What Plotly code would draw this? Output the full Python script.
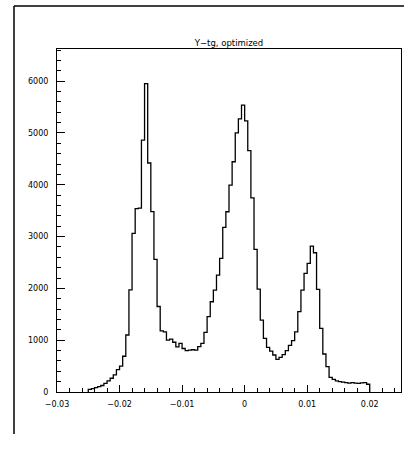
import numpy as np
import plotly.graph_objects as go

# Histogram: bins of width 0.0005 starting at -0.025
bin_start = -0.025
bin_width = 0.0005
counts = [
    50, 65, 85, 105, 125, 165, 215, 265, 330, 430,
    500, 690, 1100, 1970, 3060, 3540, 3550, 4860, 5950, 4420,
    3480, 2560, 1650, 1180, 1160, 1000, 1020, 960, 870, 940,
    840, 800, 810, 815, 810, 875, 940, 1150, 1453, 1742,
    1968, 2257, 2579, 3177, 3479, 3994, 4444, 5003, 5273, 5537,
    5234, 4660, 3745, 2753, 1987, 1389, 1036, 862, 790, 714,
    630, 670, 720, 800, 900, 990, 1160, 1550, 1968, 2290,
    2483, 2817, 2688, 1981, 1229, 733, 489, 283, 245, 215,
    199, 190, 180, 170, 180, 170, 165, 175, 180, 150,
]
title_text = "Y\u2212tg, optimized"
x_tickvals = [-0.03, -0.02, -0.01, 0.0, 0.01, 0.02]
x_ticktext = ["\u22120.03", "\u22120.02", "\u22120.01", "0", "0.01", "0.02"]
y_tickvals = [0, 1000, 2000, 3000, 4000, 5000, 6000]
y_ticktext = ["0", "1000", "2000", "3000", "4000", "5000", "6000"]

n = len(counts)
edges = bin_start + bin_width * np.arange(n + 1)
xs = [edges[0]] + list(edges[:-1]) + [edges[-1], edges[-1]]
ys = [0] + list(counts) + [counts[-1], 0]

fig = go.Figure()
fig.add_trace(go.Scatter(
    x=xs, y=ys, mode="lines",
    line=dict(shape="hv", color="black", width=1.3),
    hoverinfo="skip", showlegend=False,
))

tick_font = dict(family="DejaVu Sans", size=8, color="black")

fig.update_layout(
    width=404, height=449,
    margin=dict(l=57, r=3, t=49, b=57, pad=0),
    paper_bgcolor="white", plot_bgcolor="white",
    showlegend=False,
    title=dict(text=title_text, x=0.5, xref="paper", xanchor="center",
               y=1 - 42.7 / 449, yref="container", yanchor="middle",
               font=dict(family="DejaVu Sans", size=8.5, color="black")),
    xaxis=dict(range=[-0.03, 0.025], showgrid=False, zeroline=False,
               showline=True, linecolor="black", linewidth=1, mirror=True,
               ticks="inside", ticklen=7, tickwidth=1, tickcolor="black",
               tickvals=x_tickvals, ticktext=x_ticktext, tickfont=tick_font,
               ticklabelstandoff=4,
               minor=dict(ticks="inside", ticklen=4, tickwidth=1,
                          tickcolor="black", dtick=0.002, tick0=-0.03,
                          showgrid=False)),
    yaxis=dict(range=[0, 6620], showgrid=False, zeroline=False,
               showline=True, linecolor="black", linewidth=1, mirror=True,
               ticks="inside", ticklen=8, tickwidth=1, tickcolor="black",
               tickvals=y_tickvals, ticktext=y_ticktext, tickfont=tick_font,
               ticklabelstandoff=6,
               minor=dict(ticks="inside", ticklen=4, tickwidth=1,
                          tickcolor="black", dtick=200, tick0=0,
                          showgrid=False)),
    shapes=[
        dict(type="line", xref="paper", yref="paper",
             x0=(14 - 57) / 344, x1=(14 - 57) / 344,
             y0=(392 - 434) / 343, y1=(392 - 6) / 343,
             line=dict(color="black", width=1.5)),
        dict(type="line", xref="paper", yref="paper",
             x0=(14 - 57) / 344, x1=(406 - 57) / 344,
             y0=(392 - 6) / 343, y1=(392 - 6) / 343,
             line=dict(color="black", width=1.5)),
    ],
)

fig.write_html("out.html")
